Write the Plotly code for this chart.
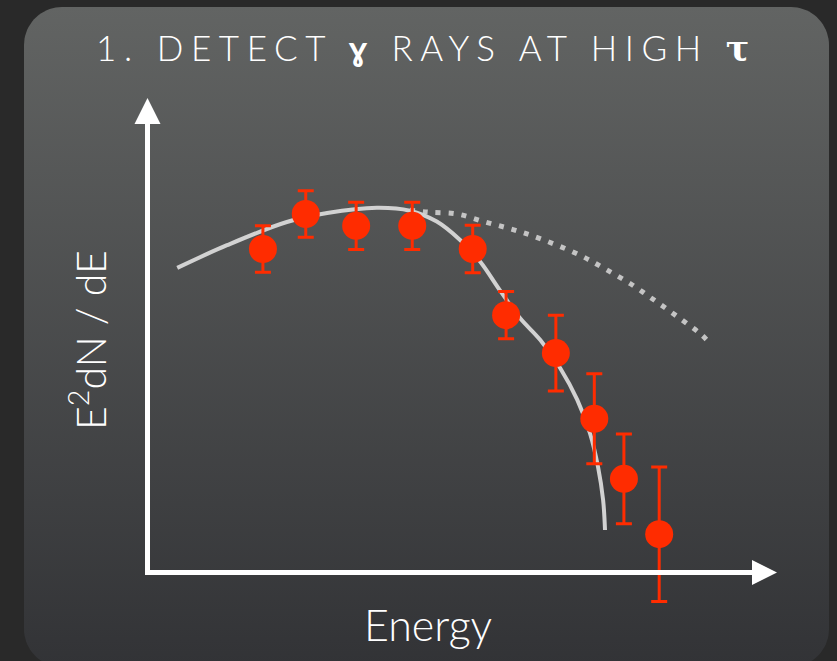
import numpy as np
import plotly.graph_objects as go

# ---------------- data (arbitrary units) ----------------
energy = [1.84, 2.52, 3.32, 4.21, 5.17, 5.70, 6.49, 7.10, 7.57, 8.13]
flux = [6.85, 7.59, 7.34, 7.34, 6.85, 5.45, 4.65, 3.26, 1.99, 0.82]
flux_err = [0.49, 0.49, 0.50, 0.50, 0.50, 0.50, 0.80, 0.95, 0.95, 1.42]

# absorbed (observed) model curve
model_x = [0.48, 1.27, 2.22, 2.86, 3.65, 4.17, 4.60, 4.97, 5.29, 5.60, 5.92,
           6.24, 6.56, 6.83, 7.03, 7.16, 7.24, 7.27]
model_y = [6.45, 6.93, 7.42, 7.61, 7.72, 7.66, 7.43, 7.04, 6.58, 5.98, 5.39,
           4.93, 4.33, 3.66, 2.96, 2.24, 1.54, 0.91]

# intrinsic (unabsorbed) curve, dotted
intrinsic_x = [4.17, 4.46, 4.92, 5.37, 5.81, 6.24, 6.87, 7.27, 7.68, 8.05, 8.43, 8.79, 8.92]
intrinsic_y = [7.67, 7.63, 7.59, 7.42, 7.26, 7.07, 6.72, 6.43, 6.11, 5.77, 5.41, 5.05, 4.88]

title_text = "1. DETECT <b>ɣ</b> RAYS AT HIGH <span style=\"font-family:'DejaVu Serif';font-weight:bold\">τ</span>"
x_label = "Energy"
y_label = "E<sup>2</sup>dN / dE"

# ---------------- layout geometry ----------------
W, H = 837, 661
X0PX, Y0PX = 147.0, 573.0      # pixel position of the axis origin
SX, SY = 63.0, 47.3            # pixels per data unit


def px_to_x(px):
    return (px - X0PX) / SX


def py_to_y(py):
    return (Y0PX - py) / SY


def rounded_rect(l, t, r_, b, rad, n=20):
    xs, ys = [], []
    corners = [(r_ - rad, t + rad, -90, 0), (r_ - rad, b - rad, 0, 90),
               (l + rad, b - rad, 90, 180), (l + rad, t + rad, 180, 270)]
    for cx, cy, a0, a1 in corners:
        for a in np.linspace(np.radians(a0), np.radians(a1), n):
            xs.append(px_to_x(cx + rad * np.cos(a)))
            ys.append(py_to_y(cy + rad * np.sin(a)))
    xs.append(xs[0])
    ys.append(ys[0])
    return xs, ys


panel_x, panel_y = rounded_rect(24, 7, 829, 667, 38)

FONT = "Lato, 'Open Sans', sans-serif"
RED = "#ff2c00"

fig = go.Figure()

# background panel with vertical gradient
fig.add_trace(go.Scatter(
    x=panel_x, y=panel_y, mode="lines", fill="toself",
    line=dict(width=0, color="rgba(0,0,0,0)"),
    fillgradient=dict(type="vertical",
                      colorscale=[[0, "#323336"], [1, "#626463"]]),
    hoverinfo="skip", showlegend=False,
))

# intrinsic curve (dotted)
fig.add_trace(go.Scatter(
    x=intrinsic_x, y=intrinsic_y, mode="lines",
    line=dict(color="#c4c4c4", width=5, dash="5px,8px", shape="spline"),
    hoverinfo="skip", showlegend=False,
))

# model curve (solid)
fig.add_trace(go.Scatter(
    x=model_x, y=model_y, mode="lines",
    line=dict(color="#d2d2d2", width=4, shape="spline"),
    hoverinfo="skip", showlegend=False,
))

# data points
fig.add_trace(go.Scatter(
    x=energy, y=flux, mode="markers",
    marker=dict(color=RED, size=28, line=dict(width=0)),
    error_y=dict(type="data", array=flux_err, color=RED, thickness=3, width=8),
    showlegend=False,
))

# axis arrows drawn as shapes (lines + triangular heads)
def tri_path(points):
    pts = [(px_to_x(a), py_to_y(b)) for a, b in points]
    return "M" + " L".join(f"{x:.4f},{y:.4f}" for x, y in pts) + " Z"


shapes = [
    dict(type="line", xref="x", yref="y", x0=px_to_x(147.5), x1=px_to_x(147.5),
         y0=py_to_y(575), y1=py_to_y(120), line=dict(color="white", width=5)),
    dict(type="path", xref="x", yref="y",
         path=tri_path([(147.5, 98), (160.5, 124), (134.5, 124)]),
         fillcolor="white", line=dict(width=0)),
    dict(type="line", xref="x", yref="y", x0=px_to_x(145), x1=px_to_x(755),
         y0=py_to_y(572.5), y1=py_to_y(572.5), line=dict(color="white", width=5)),
    dict(type="path", xref="x", yref="y",
         path=tri_path([(777, 572.5), (752, 560), (752, 585)]),
         fillcolor="white", line=dict(width=0)),
]

annotations = [
    # title
    dict(x=426 / W, y=1 - 47 / H, xref="paper", yref="paper",
         text="<span style=\"letter-spacing:7.6px\">" + title_text + "</span>",
         showarrow=False, xanchor="center", yanchor="middle",
         font=dict(family=FONT, size=35, color="white", weight=300)),
    # x label
    dict(x=428 / W, y=1 - 624 / H, xref="paper", yref="paper", text=x_label,
         showarrow=False, xanchor="center", yanchor="middle",
         font=dict(family=FONT, size=43, color="white", weight=300)),
    # y label
    dict(x=88 / W, y=1 - 340 / H, xref="paper", yref="paper", text=y_label,
         showarrow=False, xanchor="center", yanchor="middle", textangle=-90,
         font=dict(family=FONT, size=41, color="white", weight=300)),
]

fig.update_layout(
    width=W, height=H,
    margin=dict(l=0, r=0, t=0, b=0),
    paper_bgcolor="#292929", plot_bgcolor="rgba(0,0,0,0)",
    xaxis=dict(range=[px_to_x(0), px_to_x(W)], visible=False, fixedrange=True),
    yaxis=dict(range=[py_to_y(H), py_to_y(0)], visible=False, fixedrange=True),
    shapes=shapes,
    annotations=annotations,
    showlegend=False,
)

fig.write_html("out.html")
